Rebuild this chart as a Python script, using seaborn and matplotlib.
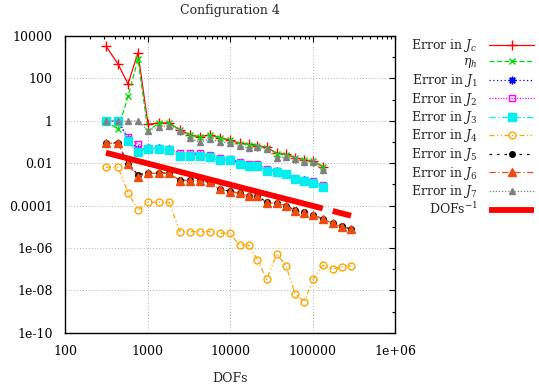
import numpy as np
import matplotlib
matplotlib.use("Agg")
import matplotlib.pyplot as plt
import matplotlib.ticker as mticker
import seaborn as sns

# ---------------- data ----------------
dofs = [314, 439, 580, 767, 1014, 1378, 1822, 2478, 3275, 4270, 5645, 7573,
        9863, 13040, 16760, 21530, 27850, 36830, 47720, 61850, 79560, 102300,
        133000, 175800, 227800, 293000]

err_Jc = [3300, 480, 55, 1600, 0.68, 0.79, 0.79, 0.37, 0.214, 0.178, 0.214,
          0.160, 0.124, 0.087, 0.078, 0.067, 0.056, 0.0293, 0.0263, 0.0182,
          0.0142, 0.0127, 0.0068]
eta_h = [1.0, 0.39, 14, 780, 0.34, 0.79, 0.80, 0.36, 0.205, 0.172, 0.205,
         0.155, 0.120, 0.084, 0.075, 0.065, 0.054, 0.0283, 0.0255, 0.0176,
         0.0138, 0.0123, 0.0066]
err_J1 = [1.0, 1.0, 0.14, 0.045, 0.050, 0.050, 0.045, 0.025, 0.025, 0.025,
          0.021, 0.015, 0.0145, 0.0105, 0.0083, 0.0082, 0.0048, 0.0042, 0.0031,
          0.00185, 0.00155, 0.0013, 0.00083]
err_J2 = [1.0, 1.0, 0.178, 0.078, 0.052, 0.052, 0.049, 0.029, 0.029, 0.029,
          0.0244, 0.017, 0.0158, 0.0118, 0.0092, 0.0092, 0.0052, 0.0043,
          0.0031, 0.0019, 0.0016, 0.00145, 0.00094]
err_J3 = [0.95, 0.95, 0.115, 0.035, 0.047, 0.047, 0.042, 0.0219, 0.0219,
          0.0219, 0.0186, 0.0134, 0.0134, 0.00916, 0.0076, 0.0074, 0.0044,
          0.0040, 0.0031, 0.0018, 0.0015, 0.0012, 0.00073]
err_J4 = [0.0064, 0.0064, 0.00041, 6.2e-5, 1.43e-4, 1.43e-4, 1.43e-4, 5.9e-6,
          5.9e-6, 5.9e-6, 5.9e-6, 4.9e-6, 4.9e-6, 1.39e-6, 1.39e-6, 2.7e-7,
          3.3e-8, 5.3e-7, 1.42e-7, 6.8e-9, 2.8e-9, 3.45e-8, 1.53e-7, 1.02e-7,
          1.31e-7, 1.41e-7]
err_J5 = [0.090, 0.090, 0.0090, 0.0029, 0.0034, 0.0034, 0.0034, 0.00155,
          0.00155, 0.00155, 0.00127, 0.00063, 0.00046, 0.00039, 0.00029,
          0.00029, 0.000141, 0.000132, 9.9e-5, 5.9e-5, 4.7e-5, 3.7e-5,
          2.33e-5, 1.5e-5, 1.04e-5, 7.8e-6]
err_J6 = [0.087, 0.087, 0.0087, 0.0023, 0.0033, 0.0033, 0.0033, 0.0015,
          0.0015, 0.0015, 0.00123, 0.00061, 0.00045, 0.00038, 0.00028,
          0.00028, 0.000137, 0.000128, 9.6e-5, 5.7e-5, 4.6e-5, 3.6e-5,
          2.26e-5, 1.46e-5, 1.01e-5, 7.6e-6]
err_J7 = [0.93, 0.95, 0.95, 1.0, 0.34, 0.53, 0.57, 0.33, 0.155, 0.095, 0.135,
          0.103, 0.090, 0.067, 0.050, 0.056, 0.045, 0.017, 0.0203, 0.0153,
          0.0118, 0.0110, 0.0048]
dofs_inv = [0.0309, 0.0221, 0.0167, 0.01265, 0.00957, 0.00704, 0.00532,
            0.00391, 0.00296, 0.00227, 0.00172, 0.00128, 0.000983, 0.000744,
            0.000579, 0.000451, 0.000348, 0.000263, 0.000203, 0.000157,
            0.000122, 9.48e-5, 7.29e-5, 5.52e-5, 4.26e-5, 3.31e-5]

labels = [r"Error in $J_c$", r"$\eta_h$", r"Error in $J_1$", r"Error in $J_2$",
          r"Error in $J_3$", r"Error in $J_4$", r"Error in $J_5$",
          r"Error in $J_6$", r"Error in $J_7$", r"DOFs$^{-1}$"]

xticks = [100, 1000, 10000, 100000, 1000000]
xticklabels = ["100", "1000", "10000", "100000", "1e+06"]
yticks = [1e4, 1e2, 1, 1e-2, 1e-4, 1e-6, 1e-8, 1e-10]
yticklabels = ["10000", "100", "1", "0.01", "0.0001", "1e-06", "1e-08", "1e-10"]
yminor = [1e3, 1e1, 1e-1, 1e-3, 1e-5, 1e-7, 1e-9]

# ---------------- style ----------------
sns.set_theme(style="white")
plt.rcParams["font.family"] = ["DejaVu Serif"]
plt.rcParams["mathtext.fontset"] = "dejavuserif"
plt.rcParams["font.size"] = 9

fig = plt.figure(figsize=(5.39, 3.89), dpi=100)
ax = fig.add_axes([65 / 539, 1 - 332.7 / 389, 330 / 539, 296.7 / 389])
ax.set_xscale("log")
ax.set_yscale("log")

series = [
    (err_Jc, dict(color="#ff0000", marker="+", ms=7, linestyle="-", mfc="#ff0000")),
    (eta_h, dict(color="#00dd00", marker="x", ms=5, linestyle=(0, (4, 2)), mfc="#00dd00")),
    (err_J1, dict(color="#0000ff", marker=(8, 2, 0), ms=5.5, linestyle=(0, (1, 2)), mfc="#0000ff")),
    (err_J2, dict(color="#ff00ff", marker="s", ms=5, linestyle=(0, (1, 1.2)), mfc="none")),
    (err_J3, dict(color="#00eeee", marker="s", ms=5.2, linestyle=(0, (5, 2, 1, 2)), mfc="#00eeee")),
    (err_J4, dict(color="#ffa500", marker="o", ms=5, linestyle=(0, (4, 2, 1, 2, 1, 2)), mfc="none")),
    (err_J5, dict(color="#000000", marker="o", ms=4, linestyle=(0, (2, 4)), mfc="#000000")),
    (err_J6, dict(color="#f04a10", marker="^", ms=5.5, linestyle=(0, (5, 2, 1, 2)), mfc="#f04a10")),
    (err_J7, dict(color="#808080", marker="^", ms=4.2, linestyle=(0, (1, 1.5)), mfc="#808080")),
]

for (vals, kw), lab in zip(series, labels[:9]):
    sns.lineplot(x=dofs[:len(vals)], y=vals, ax=ax, label=lab, lw=0.9,
                 markeredgecolor=kw["color"], markeredgewidth=1.0,
                 errorbar=None, sort=False, **kw)

sns.lineplot(x=dofs[:23], y=dofs_inv[:23], ax=ax, color="#ff0000", lw=4.2,
             label=labels[9], errorbar=None, sort=False, solid_capstyle="butt")
sns.lineplot(x=dofs[23:], y=dofs_inv[23:], ax=ax, color="#ff0000", lw=4.2,
             errorbar=None, sort=False, solid_capstyle="butt", legend=False)

ax.set_xlim(100, 1e6)
ax.set_ylim(1e-10, 1e4)
ax.xaxis.set_major_locator(mticker.FixedLocator(xticks))
ax.xaxis.set_major_formatter(mticker.FixedFormatter(xticklabels))
ax.xaxis.set_minor_locator(mticker.LogLocator(base=10, subs=range(2, 10), numticks=20))
ax.xaxis.set_minor_formatter(mticker.NullFormatter())
ax.yaxis.set_major_locator(mticker.FixedLocator(yticks))
ax.yaxis.set_major_formatter(mticker.FixedFormatter(yticklabels))
ax.yaxis.set_minor_locator(mticker.FixedLocator(yminor))
ax.yaxis.set_minor_formatter(mticker.NullFormatter())

ax.tick_params(which="both", direction="in", top=True, right=True,
               colors="black", labelsize=9)
ax.tick_params(which="major", length=4, width=0.8)
ax.tick_params(which="minor", length=2, width=0.8)
ax.tick_params(axis="x", pad=9)
ax.tick_params(axis="y", pad=9)
for s in ax.spines.values():
    s.set_color("black")
    s.set_linewidth(1.0)

ax.grid(which="major", color="#b0b0b0", linestyle=(0, (1, 2)), linewidth=0.7)
ax.set_xlabel("DOFs", fontsize=9, labelpad=10)
ax.set_ylabel("")
ax.set_title("Configuration 4", fontsize=9, pad=16)

leg = ax.legend(loc="upper right", bbox_to_anchor=(534 / 539, 1 - 37 / 389),
                bbox_transform=fig.transFigure, markerfirst=False, frameon=False,
                fontsize=9, handlelength=3.6, handletextpad=0.9,
                labelspacing=0.12, borderpad=0, borderaxespad=0)

fig.savefig("out.png", dpi=100)
